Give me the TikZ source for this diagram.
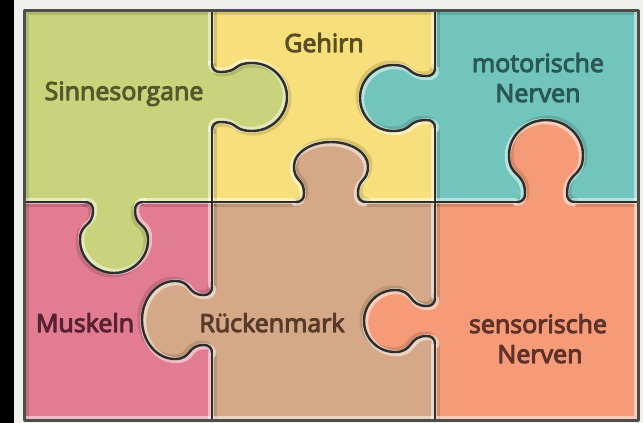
\documentclass[tikz,border=0pt]{standalone}
\usepackage{fontspec}
\newfontfamily\lblfont[FakeBold=4]{Open Sans}
\definecolor{bgC}{HTML}{F0F0EE}
\definecolor{lineC}{HTML}{2E2E2A}
\definecolor{cGreen}{HTML}{C9D37B}
\definecolor{cYellow}{HTML}{F7DF7C}
\definecolor{cTeal}{HTML}{72C5BD}
\definecolor{cPink}{HTML}{E17C93}
\definecolor{cTan}{HTML}{D5A987}
\definecolor{cSalmon}{HTML}{F59B77}
\definecolor{tGreen}{HTML}{55582A}
\definecolor{tYellow}{HTML}{5A4E22}
\definecolor{tTeal}{HTML}{2A5854}
\definecolor{tPink}{HTML}{582232}
\definecolor{tTan}{HTML}{583A2A}
\definecolor{tSalmon}{HTML}{5E3228}
% tab outline: n = neck half width, k = knob half width, c = knob widest point, p = protrusion
\newcommand{\tabcurve}[4]{%
 (0,{-#1-8}) .. controls (0,{-#1-3}) and (3,{-#1}) .. (8,{-#1})
 .. controls ({8+0.6*(#3-8)},{-#1}) and ({#3-0.6*(#3-8)},{-#2}) .. (#3,{-#2})
 .. controls ({#3+0.55*(#4-#3)},{-#2}) and (#4,{-0.55*#2}) .. (#4,0)
 .. controls (#4,{0.55*#2}) and ({#3+0.55*(#4-#3)},{#2}) .. (#3,{#2})
 .. controls ({#3-0.6*(#3-8)},{#2}) and ({8+0.6*(#3-8)},{#1}) .. (8,{#1})
 .. controls (3,{#1}) and (0,{#1+3}) .. (0,{#1+8})}
\newcommand{\tabfill}[8]{%
 \begin{scope}[shift={(#1,#2)}, rotate=#3]
  \fill[#8] \tabcurve{#4}{#5}{#6}{#7} -- (-3,{#4+8}) -- (-3,{-#4-8}) -- cycle;
 \end{scope}}
\newcommand{\tabline}[8]{%
 \begin{scope}[shift={(#1,#2)}, rotate=#3]
  \draw[#8] \tabcurve{#4}{#5}{#6}{#7};
 \end{scope}}
\newcommand{\alltabs}[2]{%
 #1{212}{97}{0}{25}{34}{40}{75}{#2}
 #1{435}{98}{180}{22}{33}{42}{75}{#2}
 #1{331}{202}{90}{27}{37}{36}{60}{#2}
 #1{546}{202}{90}{21}{37}{47}{82}{#2}
 #1{114}{202}{-90}{21}{34}{38}{71}{#2}
 #1{212}{320}{180}{25}{39}{37}{70}{#2}
 #1{435}{321}{180}{15}{31}{40}{71}{#2}}
\newcommand{\straights}[1]{%
 \draw[#1] (212,10) -- (212,64) (212,130) -- (212,202);
 \draw[#1] (212,202) -- (212,287) (212,353) -- (212,420);
 \draw[#1] (435,10) -- (435,68) (435,128) -- (435,202);
 \draw[#1] (435,202) -- (435,298) (435,344) -- (435,420);
 \draw[#1] (24,202) -- (85,202) (143,202) -- (296,202) (366,202) -- (517,202) (575,202) -- (638,202);}
\begin{document}
\begin{tikzpicture}[x=1pt,y=-1pt,line join=round,line cap=round,
  edge/.style={draw=lineC,line width=2.4pt},
  halo/.style={draw=white,opacity=0.5,line width=6pt,shift={(-1.2,-1.2)}},
  shade/.style={draw=black,opacity=0.12,line width=6pt,shift={(1.5,1.5)}},
  lbl/.style={font=\lblfont\fontsize{25}{30}\selectfont,inner sep=0pt,anchor=base}]
\useasboundingbox (0,0) rectangle (643,423);
\fill[bgC] (0,0) rectangle (643,423);
\fill[black] (0,0) rectangle (14,423);
% pieces
\fill[cGreen] (24,10) rectangle (212,202);
\fill[cYellow] (212,10) rectangle (435,202);
\fill[cTeal] (435,10) rectangle (638,202);
\fill[cPink] (24,202) rectangle (212,420);
\fill[cTan] (212,202) rectangle (435,420);
\fill[cSalmon] (435,202) rectangle (638,420);
% tabs (green, teal, tan, salmon, green, tan, salmon)
\tabfill{212}{97}{0}{25}{34}{40}{75}{cGreen}
\tabfill{435}{98}{180}{22}{33}{42}{75}{cTeal}
\tabfill{331}{202}{90}{27}{37}{36}{60}{cTan}
\tabfill{546}{202}{90}{21}{37}{47}{82}{cSalmon}
\tabfill{114}{202}{-90}{21}{34}{38}{71}{cGreen}
\tabfill{212}{320}{180}{25}{39}{37}{70}{cTan}
\tabfill{435}{321}{180}{15}{31}{40}{71}{cSalmon}
% soft relief
\begin{scope}
\clip (24,10) rectangle (638,420);
\draw[shade] (24,10) rectangle (638,420);
\straights{shade}
\alltabs{\tabline}{shade}
\draw[halo] (24,10) rectangle (638,420);
\straights{halo}
\alltabs{\tabline}{halo}
\end{scope}
% outlines
\straights{edge}
\alltabs{\tabline}{edge}
\draw[draw=lineC!85,line width=3pt] (24,10) rectangle (638,420);
% labels
\node[lbl,text=tGreen] (sinn) at (124,100) {Sinnesorgane};
\node[lbl,text=tYellow] (geh) at (324,52) {Gehirn};
\node[lbl,text=tTeal] (mot1) at (538,72) {motorische};
\node[lbl,text=tTeal] (mot2) at (538,102) {Nerven};
\node[lbl,text=tPink] (musk) at (85,332) {Muskeln};
\node[lbl,text=tTan] (rueck) at (272,332) {Rückenmark};
\node[lbl,text=tSalmon] (sens1) at (538,333) {sensorische};
\node[lbl,text=tSalmon] (sens2) at (540,363) {Nerven};
\end{tikzpicture}
\end{document}
